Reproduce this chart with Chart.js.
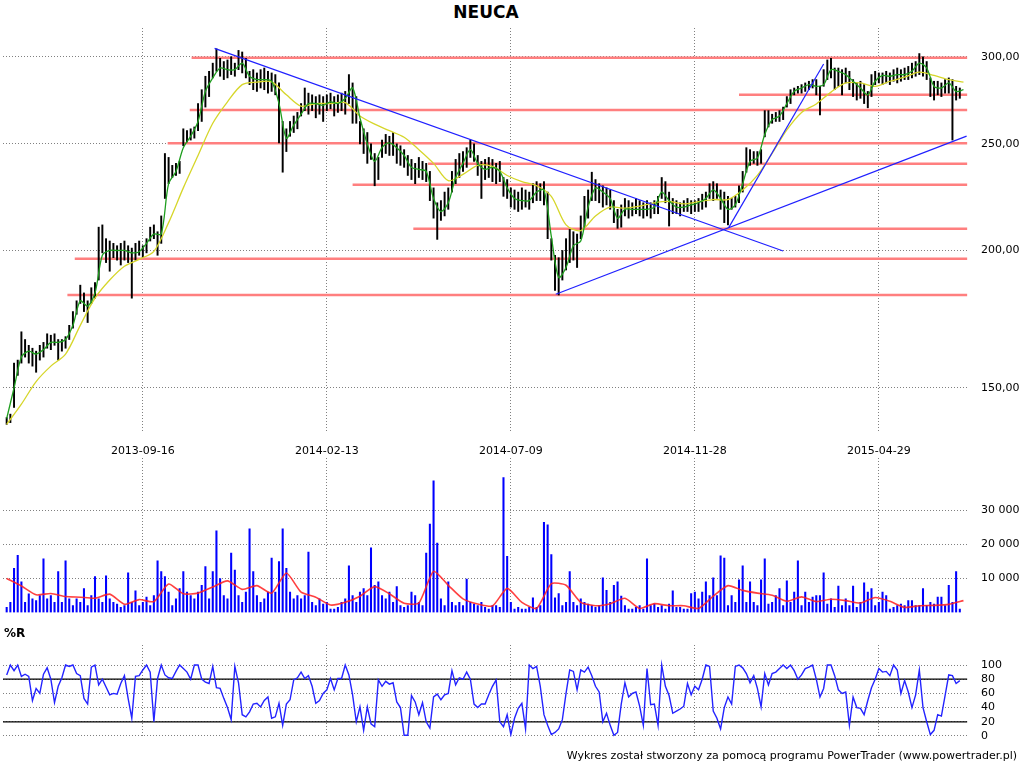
<!DOCTYPE html>
<html>
<head>
<meta charset="utf-8">
<script src="https://cdn.jsdelivr.net/npm/chart.js@4.4.0/dist/chart.umd.min.js"></script>
<style>
  body { margin: 0; background: #fff; width: 1024px; height: 768px; position: relative; overflow: hidden; font-family: "DejaVu Sans", sans-serif; }
  canvas { position: absolute; left: 0; }
  #title { position: absolute; top: 2px; left: 0; width: 972px; text-align: center; font: bold 17px/20px "DejaVu Sans"; }
  #rlabel { position: absolute; left: 4px; top: 626px; font: bold 12px/14px "DejaVu Sans"; }
  #footer { position: absolute; right: 7px; top: 749px; font: 11px/14px "DejaVu Sans"; }
</style>
</head>
<body>
<div id="title">NEUCA</div>
<canvas id="price" width="1024" height="458" style="top:0"></canvas>
<canvas id="vol" width="1024" height="170" style="top:455px"></canvas>
<canvas id="wr" width="1024" height="125" style="top:625px"></canvas>
<div id="rlabel">%R</div>
<div id="footer">Wykres został stworzony za pomocą programu PowerTrader (www.powertrader.pl)</div>
<script>
// x = trading day index, bars every 2nd day
const dateLabels = ['2013-09-16', '2014-02-13', '2014-07-09', '2014-11-28', '2015-04-29'];
const dateIdx = [74, 174, 274, 374, 474];
const BAR_STEP = 2, FAST_STEP = 4, SLOW_STEP = 8;

const high = [
  141,142,158,159,168.7,166,164,163,162,164,
  165,168,167.5,168,166,166,167,171,176,180,
  186,183,180,185,187,210,211,205,204,203,
  202,203,204,202,201,203,204,202,205,210,
  211,208,215,245,243,239,240,241,258,257,
  258,259,272,280,288,291,296,305,299,297,
  298,300,296,304,303,299,291,292,290,292,
  293,291,290,289,284,262,258,262,265,267,
  272,281,278,277,276,277,276,277,278,276,
  277,278,279,289,284,276,262,258,256,250,
  245,243,252,255,254,256,250,249,247,244,
  242,240,243,241,240,236,228,221,222,226,
  228,236,242,245,246,248,252,250,244,241,
  242,243,242,240,241,233,232,228,227,226,
  228,227,226,230,231,230,231,226,205,198,
  197,200,205,209,208,207,215,224,227,235.6,
  232,230,229,228,227,222,218,220,223,222,
  221,223,222,221,222,221,222,224,233,231,
  226,223,222,221,222,223,222,222,223,225,
  226,230,231,230,227,226,224,223,224,229,
  236,248,247,246,246,247,268,268,266,267,
  268,270,276,280,281,282,283,284,285,286,
  286,282,292,298,299,293,293,292,293,291,
  286,284,285,283,279,289,291,290,290,291,
  290,292,293,292,293,294,296,297,302,300,
  297,287,285,285,284,286,287,286,282,281
];
const low = [
  139,139.5,144,154,158,160,158,157,155,159,
  160,163,162.5,164,159,162,163,166,170,175,
  179,176,172,179,181,188,199,195,191.5,197,
  196,194,196,195,181,196,198,197,199,204,
  205,198,203,223,230,233,234,235,249,251,
  252,253,257,262,270,276,287,291,288,286,
  287,289,288,292,290,287,283,280,279,281,
  280,278,279,277,250.5,235.6,246,254,256,258,
  265,268,266,268,264,266,262,268,269,265,
  267,268,266,272,261,261,250,245,240,242,
  229,232,243,245,244,244,240,239,238,234,
  232,230,233,232,231,222,214,204.7,213,215,
  218,226,230,233,236,238,243,241,234,223,
  232,233,231,230,231,224,223,219,218,217,
  218,219,218,221,222,222,220,205,196,184,
  182.2,188,192,195,196,193,205,210,214,222,
  222,221,219,220,218,212,209.5,210,215,214,
  215,216,215,214,215,214,216,216,223,221,
  210.5,216,216,215,217,217,216,217,217,218,
  219,223,222,223,218,212,211,218,219,221,
  226,235.6,239,240,239,240,253.7,259,261,262,
  262,263,270,272,277,278,278,279,280,281,
  277,265.6,282,286,287,280,282,277,284,280,
  276,274,275,272,269.6,276,283,284,283,284,
  283,285,284,285,286,286,287,288,289,288,
  286,276,274,277,276,278,278,252,274,275
];
// short moving average (green), every 4th day
const maFast = [
  140.7,150,160,162,161,162.5,165,165,166,171,
  180,178,183,198,200,200,200,199,199.5,203,
  207,207,230,236,248,254,262,279,287,293,
  292,292,296,288,286,286,285,272,253,260,
  266,272,272,271,273,272,275,281,264,250,
  241,248,250.5,248,244,238,237,236,223,217,
  221,233,240,247,240,237,238,236,228,223,
  222,222,226,227,206,189,193,202,204,219,
  228,226,223,214,218,218,218,218,219,226,
  222,219,219,220,221,223,227,223,218,220,
  230,241,242.7,255,263,265,272,279,281,283,
  282,283,292,291,289,285,281,277,285,288.5,
  288,289,289,291,296,293,282,281,284,279,
  280
];
// long moving average (yellow), every 8th day
const maSlow = [
  139,145,152,157,161,171,181,188,193.5,196.3,
  199.6,212,228,244,261,273,283,284.5,284.6,277,
  270.5,272,272,272.5,265,260.5,257,253.5,247,240,
  231.5,234.5,239,238.5,234,231,229,224,211,208.5,
  215,219,218.5,219.5,221,221.6,220.5,221.5,222.5,222.5,
  227,234,245,257.4,267,271.8,278.6,284,284,282,
  285,287.4,290.5,288.5,286,284.5
];
// support / resistance levels and where they start
const levels = [299.4, 277.1, 268.4, 250.3, 239.8, 229.5, 209.3, 196.6, 182.2];
const levelStart = [100.5, 398, 99.5, 87.5, 229, 188, 221, 37, 33];
const levelEnd = 522;
// trend lines: [x1, price1, x2, price2]
const trendLines = [
  [113, 305.3, 422, 199.8],
  [298.4, 182.5, 521.7, 254.1],
  [392.4, 209.8, 444, 295.5]
];
// volume in thousands, every 2nd day
const volume = [
  1.5,3,13,16.8,9,3,5.5,4,3.5,5,
  15.8,4,5,3,12,3,15.2,4,2,4,
  3,7,2,5,10.6,4,3,10.8,4,3,
  2.5,1.5,2,11.7,3,6.4,2,3,4.5,2,
  5,15.2,12,10.6,6,2,4,7,12,6,
  5,4,6,8,13.5,4,12,24,10,5,
  4,17.5,12.5,5,3,6,24.6,12,5,3,
  4,6,16,6,15,24.6,13,6,4,5,
  4,5,17.8,3,2,4,2.5,3,1,1,
  1.5,3,4,13.7,5,3,6,7,5,19,
  8,9,5,4,6,3,7.6,2,1.5,2,
  6,5,3,2,17.5,26,38.7,20.4,4,2,
  9,3,2,3,2,9.8,3,2.5,2,3,
  1.5,1,2,2,1.5,39.7,16.5,3,1,1.5,
  1,1,1.5,4.3,1.5,2,26.5,25.8,17,4.3,
  5.6,2,3,12,3,2,4,3,2.5,2,
  1.5,2,10.2,6.5,3,8,9,4.8,2,1,
  1,1.5,2,1,15.8,2,2.5,1.5,2,1,
  2.5,6.4,1.5,1.5,1,1,5.6,6,4,6,
  9,5,10.2,5,16.7,16,2,5,3,9.6,
  13.7,3,9,3,2,9.6,15.8,2.5,3,5,
  7,2,9.3,3,6,15.2,2,6,3,4.5,
  5,5,11.7,2.5,4,1.5,7.8,2,4,2,
  7.8,1.5,3,8.7,6,7,2,3,6,5,
  1,1.5,2,2.5,2,3.5,3.5,2,2,7,
  2,3,2.5,4.5,4.5,2,8,3,12,1
];
// volume moving average, every 8th day
const volumeMA = [
  10,7.8,5.2,5.6,4.7,4.5,4.2,5.4,2.4,3.8,
  3.2,8.4,5.5,5.7,7.5,9.3,6.8,7.9,5.7,11.6,
  6,4.5,2.2,3,4.8,7.6,5.5,2.7,2.8,12.1,
  8,4,2.5,1.9,7.1,3,1.2,8.5,8,3,
  2,2.6,4.2,1.2,2.6,2,2,1.2,4.8,7.9,
  6.5,5.7,5.1,3.3,4.6,3.2,3.9,3.5,2.8,4.4,
  3.3,1.5,2,2.1,2.4,3.5
];
// Williams %R, every 2nd day
const willR = [
  86,100,92,100,84,87,84,50,67,60,
  87,96,80,47,70,82,100,98,100,88,
  85,53,45,97,100,72,80,69,58,60,
  59,74,85,53,25,84,85,93,100,90,
  20,81,100,86,82,81,91,100,95,90,
  80,100,100,80,76,74,98,68,67,53,
  40,23,98,75,30,27,34,45,46,41,
  50,55,25,27,46,15,45,51,79,82,
  90,81,85,70,46,50,60,65,81,65,
  81,81,100,86,58,20,41,8,41,17,
  13,79,70,77,73,75,48,40,1,1,
  57,48,30,47,20,11,55,59,51,58,
  60,92,72,82,80,90,80,45,40,45,
  45,58,70,79,20,13,30,2,25,39,
  46,10,100,95,98,70,30,15,2,5,
  10,23,60,93,91,65,93,90,97,85,
  70,62,20,32,15,1,5,45,75,55,
  60,62,42,15,95,44,45,15,100,70,
  57,32,35,38,42,74,58,70,65,80,
  100,98,35,25,10,40,55,45,98,100,
  96,88,75,85,67,41,88,72,88,90,
  95,100,95,100,92,80,86,95,97,100,
  80,55,67,100,100,85,65,60,62,15,
  55,40,39,30,50,68,80,95,90,91,
  85,100,93,60,78,62,40,58,93,40,
  20,2,8,30,28,57,86,85,74,78
];
const priceTicks = [150, 200, 250, 300];
const volTicks = [10, 20, 30];
const wrTicks = [0, 20, 40, 60, 80, 100];
const wrBands = [20, 80];

const pts = (arr, step) => arr.map((v, i) => ({ x: i * step, y: v }));
const font = { family: 'DejaVu Sans', size: 11 };
const GRID = '#808080';

// solid axis lines and tick marks (grid itself is dotted)
const axisMarks = {
  id: 'axisMarks',
  afterDraw(chart, args, o) {
    const { ctx, chartArea } = chart;
    const x = chart.scales.x, y = chart.scales.y;
    const ax = Math.round(chartArea.right) + 0.5;
    ctx.save();
    ctx.strokeStyle = '#000';
    ctx.lineWidth = 1;
    ctx.beginPath();
    ctx.moveTo(ax, y.getPixelForValue(o.axisFrom));
    ctx.lineTo(ax, y.getPixelForValue(o.axisTo));
    y.ticks.forEach(t => {
      const py = Math.round(y.getPixelForValue(t.value)) + 0.5;
      ctx.moveTo(ax, py); ctx.lineTo(ax + 8, py);
    });
    const by = Math.round(chartArea.bottom + o.baseOffset) + 0.5;
    ctx.moveTo(x.getPixelForValue(0), by);
    ctx.lineTo(x.getPixelForValue(519), by);
    if (o.xTicks) {
      x.ticks.forEach(t => {
        const px = Math.round(x.getPixelForValue(t.value)) + 0.5;
        ctx.moveTo(px, by); ctx.lineTo(px, by + 9);
      });
    }
    ctx.stroke();
    ctx.restore();
  }
};

function xAxis(h, labels) {
  return {
    type: 'linear', min: -2, max: 523, offset: false,
    afterBuildTicks: s => { s.ticks = dateIdx.map(v => ({ value: v })); },
    afterFit: s => { s.height = h; s.paddingLeft = 0; s.paddingRight = 0; },
    ticks: { display: labels, autoSkip: false, maxRotation: 0, padding: 12, color: '#000', font,
             callback: v => dateLabels[dateIdx.indexOf(v)] },
    grid: { color: GRID, drawTicks: false, offset: false },
    border: { display: false, dash: [1, 2] }
  };
}
function yAxis(type, min, max, tickVals, fmt) {
  return {
    type, position: 'right', min, max,
    afterBuildTicks: s => { s.ticks = tickVals.map(v => ({ value: v })); },
    afterFit: s => { s.width = 55; s.paddingTop = 0; s.paddingBottom = 0; },
    ticks: { padding: 12, color: '#000', font, autoSkip: false, callback: fmt },
    grid: { color: GRID, drawTicks: false },
    border: { display: false, dash: [1, 2] }
  };
}
function baseOptions(padTop, xA, yA, marks) {
  return {
    responsive: false, animation: false, devicePixelRatio: 1, events: [],
    layout: { padding: { top: padTop, left: 3, right: 0, bottom: 0 } },
    elements: { point: { radius: 0 }, line: { fill: false } },
    plugins: { legend: { display: false }, tooltip: { enabled: false }, axisMarks: marks },
    scales: { x: xA, y: yA }
  };
}

new Chart(document.getElementById('price'), {
  type: 'line',
  data: { datasets: [
    ...levels.map((lv, i) => ({
      data: [{ x: levelStart[i], y: lv }, { x: levelEnd, y: lv }],
      borderColor: '#ff7f7f', borderWidth: 2.5, order: 5
    })),
    { type: 'bar', data: high.map((h, i) => ({ x: i * BAR_STEP, y: [low[i], h] })),
      backgroundColor: '#000', borderWidth: 0, barThickness: 1.3, order: 4 },
    { data: pts(maSlow, SLOW_STEP), borderColor: '#d6d62a', borderWidth: 1.3, tension: 0.3, order: 3 },
    { data: pts(maFast, FAST_STEP), borderColor: '#1e9e1e', borderWidth: 1.3, tension: 0.3, order: 2 },
    ...trendLines.map(t => ({
      data: [{ x: t[0], y: t[1] }, { x: t[2], y: t[3] }],
      borderColor: '#2020ff', borderWidth: 1.2, order: 1
    }))
  ]},
  options: baseOptions(28, xAxis(25, true),
    yAxis('logarithmic', 136.5, 318.6, priceTicks, v => v + ',00'),
    { axisFrom: 305.5, axisTo: 139.3, baseOffset: 0, xTicks: true })
});

new Chart(document.getElementById('vol'), {
  type: 'line',
  data: { datasets: [
    { type: 'bar', data: pts(volume, BAR_STEP), backgroundColor: '#0000ff', borderWidth: 0, barThickness: 1.4, order: 2 },
    { data: pts(volumeMA, SLOW_STEP), borderColor: 'rgba(255,30,30,0.85)', borderWidth: 1.6, tension: 0.2, order: 1 }
  ]},
  options: baseOptions(3, xAxis(12.5, false),
    yAxis('linear', 0, 45.44, volTicks, v => v + ' 000'),
    { axisFrom: 39.26, axisTo: 0, baseOffset: 6.5, xTicks: false })
});

new Chart(document.getElementById('wr'), {
  type: 'line',
  data: { datasets: [
    ...wrBands.map(b => ({ data: [{ x: -2, y: b }, { x: 522, y: b }], borderColor: '#000', borderWidth: 1.2, order: 2 })),
    { data: pts(willR, BAR_STEP), borderColor: '#2323ff', borderWidth: 1.4, order: 1 }
  ]},
  options: baseOptions(20, xAxis(13, false),
    yAxis('linear', -1.41, 128.17, wrTicks, v => String(v)),
    { axisFrom: 100, axisTo: 0, baseOffset: 6, xTicks: false })
});
</script>
</body>
</html>
